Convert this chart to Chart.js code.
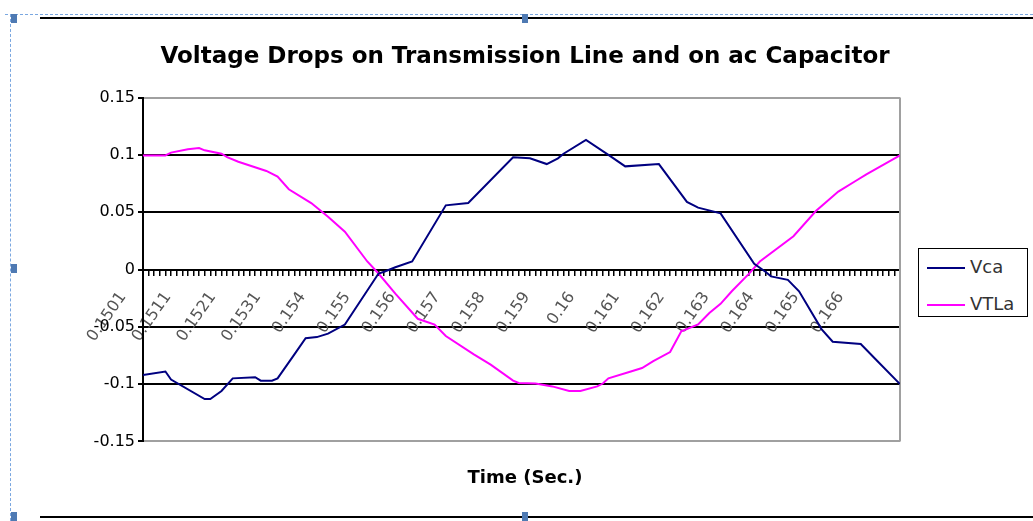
<!DOCTYPE html>
<html>
<head>
<meta charset="utf-8">
<title>Voltage Drops</title>
<script src="https://cdn.jsdelivr.net/npm/chart.js@4.4.1/dist/chart.umd.min.js"></script>
<style>
  html, body { margin: 0; padding: 0; background: #fff; width: 1033px; height: 521px; overflow: hidden; }
  #wrap { position: absolute; left: 10px; top: 0; width: 1030px; height: 521px; }
  .sel-h { position: absolute; left: 5px; right: 0; top: 14px; border-top: 1px dashed #7aa7e0; }
  .sel-v { position: absolute; left: 10px; top: 14px; bottom: 0; border-left: 1px dashed #7aa7e0; }
  .rule { position: absolute; left: 40px; right: 0; height: 2px; background: #000; }
  .handle { position: absolute; width: 6px; height: 9px; background: #4f7ab3; }
  #legend { position: absolute; left: 918px; top: 248px; width: 108px; height: 67px; border: 1px solid #000; background: #fff;
            font-family: 'DejaVu Sans', sans-serif; font-size: 18px; color: #333; }
  #legend .item { position: absolute; left: 8px; height: 20px; line-height: 20px; white-space: nowrap; }
  #legend .swatch { display: inline-block; width: 38px; height: 2px; vertical-align: middle; margin-right: 5px; }
</style>
</head>
<body>
<div class="sel-h"></div>
<div class="sel-v"></div>
<div class="rule" style="top:17px"></div>
<div class="rule" style="top:516px"></div>
<div class="handle" style="left:11px; top:14px"></div>
<div class="handle" style="left:522px; top:14px"></div>
<div class="handle" style="left:11px; top:264px"></div>
<div class="handle" style="left:11px; top:512px"></div>
<div class="handle" style="left:522px; top:512px"></div>
<div id="wrap"><canvas id="chart"></canvas></div>
<div id="legend"></div>
<script>
// time axis: one tick per sample, a label every 8th sample
const timeLabels = ['0.1501', '0.1511', '0.1521', '0.1531', '0.154', '0.155', '0.156', '0.157', '0.158',
                    '0.159', '0.16', '0.161', '0.162', '0.163', '0.164', '0.165', '0.166'];
const labelEvery = 8;
const lastSample = 135;

// Vca: sample number and value
const vcaAt  = [0, 4, 5, 11, 12, 14, 16, 20, 21, 23, 24, 27, 29, 31, 33, 36, 42, 43, 45, 48,
                54, 58, 66, 69, 72, 74, 75, 79, 83, 86, 92, 97, 99, 103, 109, 111, 112, 115, 117, 121,
                123, 128, 131, 135];
const vcaVal = [-0.092, -0.089, -0.096, -0.113, -0.113, -0.106, -0.095, -0.094, -0.097, -0.097,
                -0.095, -0.074, -0.060, -0.059, -0.056, -0.048, -0.0035, -0.002, 0.002, 0.007,
                0.056, 0.058, 0.098, 0.097, 0.092, 0.097, 0.101, 0.113, 0.100, 0.090,
                0.092, 0.059, 0.054, 0.049, 0.005, -0.002, -0.006, -0.009, -0.019, -0.052,
                -0.063, -0.065, -0.080, -0.100];

// VTLa
const vtlaAt  = [0, 4, 5, 8, 10, 11, 14, 15, 17, 22, 24, 26, 30, 33, 36, 40, 42, 45, 49, 52,
                 54, 59, 62, 66, 67, 70, 73, 76, 78, 81, 82, 83, 87, 89, 91, 94, 96, 99, 101, 103,
                 105, 108, 110, 116, 120, 124, 127, 129, 135];
const vtlaVal = [0.0995, 0.0995, 0.102, 0.105, 0.106, 0.104, 0.101, 0.098, 0.094, 0.086,
                 0.081, 0.070, 0.058, 0.046, 0.033, 0.007, -0.0035, -0.021, -0.043, -0.048,
                 -0.058, -0.074, -0.083, -0.097, -0.099, -0.0995, -0.102, -0.106, -0.106, -0.102,
                 -0.0995, -0.095, -0.089, -0.086, -0.080, -0.072, -0.054, -0.048, -0.038, -0.030,
                 -0.019, -0.004, 0.007, 0.029, 0.051, 0.068, 0.077, 0.083, 0.0995];

const FONT = 'DejaVu Sans';
const toPoints = (at, val) => at.map((x, i) => ({ x, y: val[i] }));

// gray right edge of the plot area (top/bottom come from the y grid)
const plotFrame = {
    id: 'plotFrame',
    beforeDatasetsDraw(chart) {
        const { ctx, chartArea: a } = chart;
        ctx.save();
        ctx.strokeStyle = '#a0a0a0';
        ctx.lineWidth = 2;
        ctx.beginPath();
        ctx.moveTo(a.right, a.top);
        ctx.lineTo(a.right, a.bottom);
        ctx.stroke();
        ctx.restore();
    }
};

const chart = new Chart(document.getElementById('chart').getContext('2d'), {
    type: 'line',
    data: {
        datasets: [
            { label: 'Vca', data: toPoints(vcaAt, vcaVal), borderColor: '#000080', borderWidth: 2, pointRadius: 0, tension: 0 },
            { label: 'VTLa', data: toPoints(vtlaAt, vtlaVal), borderColor: '#ff00ff', borderWidth: 2, pointRadius: 0, tension: 0 }
        ]
    },
    options: {
        responsive: true,
        maintainAspectRatio: false,
        animation: false,
        layout: { padding: 0 },
        plugins: {
            legend: { display: false },
            tooltip: { enabled: false },
            title: {
                display: true,
                text: 'Voltage Drops on Transmission Line and on ac Capacitor',
                color: '#000',
                font: { family: FONT, size: 23, weight: 'bold' },
                padding: { top: 43, bottom: 27 }
            },
            subtitle: {
                display: true,
                position: 'bottom',
                text: 'Time (Sec.)',
                color: '#000',
                font: { family: FONT, size: 18, weight: 'bold' },
                padding: { top: 26, bottom: 32 }
            }
        },
        scales: {
            x: {
                type: 'linear',
                position: { y: 0 },
                min: 0,
                max: lastSample,
                border: { display: true, color: '#000', width: 2 },
                grid: { drawOnChartArea: false, drawTicks: true, tickLength: 5, color: '#000', lineWidth: 1.5 },
                ticks: {
                    stepSize: 1,
                    autoSkip: false,
                    minRotation: 55,
                    maxRotation: 55,
                    padding: 14,
                    labelOffset: -20,
                    color: '#555',
                    font: { family: FONT, size: 16 },
                    callback: v => (v % labelEvery === 0 ? timeLabels[v / labelEvery] : '')
                }
            },
            y: {
                min: -0.15,
                max: 0.15,
                afterFit: s => { s.width = 133; },
                border: { display: true, color: '#000', width: 2 },
                grid: {
                    color: c => (Math.abs(c.tick.value) > 0.149 ? '#a0a0a0' : '#000'),
                    lineWidth: 2,
                    tickColor: '#000',
                    tickLength: 5
                },
                ticks: {
                    stepSize: 0.05,
                    padding: 3,
                    color: '#000',
                    font: { family: FONT, size: 16 },
                    callback: v => String(+v.toFixed(2))
                }
            },
            // empty right-hand strip that holds the legend box
            side: {
                type: 'linear',
                position: 'right',
                display: true,
                afterFit: s => { s.width = 140; },
                grid: { display: false },
                border: { display: false },
                ticks: { display: false }
            }
        }
    },
    plugins: [plotFrame]
});

// legend box built from the chart's datasets
const legendBox = document.getElementById('legend');
chart.data.datasets.forEach((ds, i) => {
    const row = document.createElement('div');
    row.className = 'item';
    row.style.top = (8 + i * 37) + 'px';
    const swatch = document.createElement('span');
    swatch.className = 'swatch';
    swatch.style.background = ds.borderColor;
    row.appendChild(swatch);
    row.appendChild(document.createTextNode(ds.label));
    legendBox.appendChild(row);
});
</script>
</body>
</html>
